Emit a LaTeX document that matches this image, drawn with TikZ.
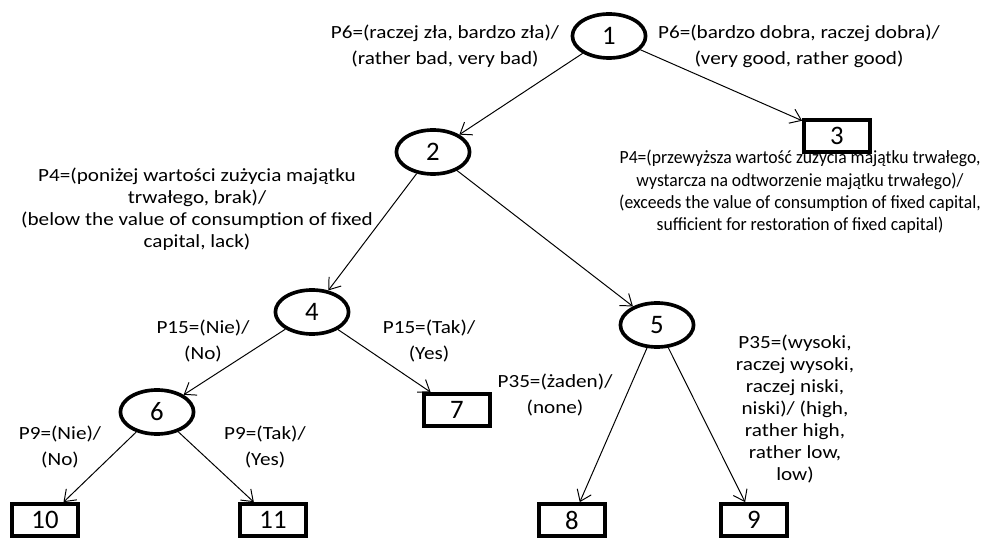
\documentclass[tikz,border=0pt]{standalone}
\usepackage{fontspec}
\setmainfont{Carlito}
\newfontfamily\widefont{Carlito}[FakeStretch=1.14]
\newfontfamily\narrowfont{Carlito}[FakeStretch=0.95]
\usetikzlibrary{arrows.meta,shapes.geometric}

\begin{document}
\begin{tikzpicture}[x=0.025cm,y=-0.025cm,
		split/.style={ellipse,draw,line width=2.6pt,minimum width=1.83cm,minimum height=1.1cm,inner sep=0pt,font=\fontsize{19}{22}\selectfont},
		leaf/.style={rectangle,draw,line width=2.6pt,minimum width=1.65cm,minimum height=0.8cm,inner sep=0pt,font=\fontsize{19}{22}\selectfont},
		rule/.style={align=center,inner sep=0pt,font=\widefont\fontsize{13.2}{15.6}\selectfont},
		rulewide/.style={rule,font=\widefont\fontsize{13.2}{18.5}\selectfont},
		rulenarrow/.style={rule,font=\narrowfont\fontsize{13.2}{15.8}\selectfont},
		branch/.style={-{Straight Barb[length=2.6mm,width=3.8mm]},line width=0.7pt}]
			\useasboundingbox (0,0) rectangle (989,538);
			
			\node[split] (n1) at (609,36) {1};
			\node[split] (n2) at (433,152) {2};
			\node[leaf] (n3) at (837,136) {3};
			
			\node[split] (n4) at (312,312) {4};
			\node[split] (n5) at (657,325) {5};
			\node[split] (n6) at (157,412) {6};
			\node[leaf] (n7) at (457,410) {7};
			
			\node[leaf] (n10) at (45,520) {10};
			\node[leaf] (n11) at (273,520) {11};
			\node[leaf] (n8) at (572,520) {8};
			\node[leaf] (n9) at (754,520) {9};
			
			\node[rulewide] (p1) at (445,46) {P6=(raczej zła, bardzo zła)/\\(rather bad, very bad)};
			\node[rulewide] (p2) at (799,46) {P6=(bardzo dobra, raczej dobra)/\\(very good, rather good)};
			\node[rule] (p3) at (197,209) {P4=(poniżej wartości zużycia majątku\\trwałego, brak)/\\(below the value of consumption of fixed\\capital, lack)};
			\node[rulenarrow] (p4) at (800,192) {P4=(przewyższa wartość zużycia majątku trwałego,\\wystarcza na odtworzenie majątku trwałego)/\\(exceeds the value of consumption of fixed capital,\\sufficient for restoration of fixed capital)};
			\node[rulewide] (p5) at (203,341) {P15=(Nie)/\\(No)};
			\node[rulewide] (p6) at (429,341) {P15=(Tak)/\\(Yes)};
			\node[rulewide] (p7) at (60,447) {P9=(Nie)/\\(No)};
			\node[rulewide] (p8) at (265,447) {P9=(Tak)/\\(Yes)};
			\node[rulewide] (p9) at (555,395) {P35=(żaden)/\\(none)};
			\node[rule] (p10) at (795,409) {P35=(wysoki,\\raczej wysoki,\\raczej niski,\\niski)/ (high,\\rather high,\\rather low,\\low)};
			
			\draw[branch] (n1)--(n2);
			\draw[branch] (n1)--(n3);
			\draw[branch] (n2)--(n4);
			\draw[branch] (n2)--(n5);
			\draw[branch] (n4)--(n6);
			\draw[branch] (n4)--(n7);
			\draw[branch] (n6)--(n10);
			\draw[branch] (n6)--(n11);
			\draw[branch] (n5)--(n8);
			\draw[branch] (n5)--(n9);
		\end{tikzpicture}
\end{document}
